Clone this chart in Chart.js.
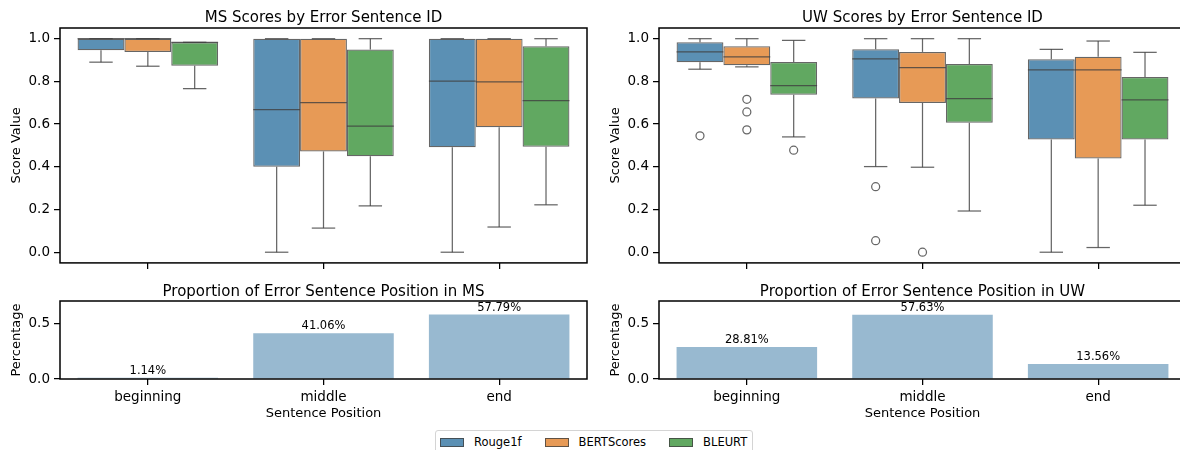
<!DOCTYPE html>
<html>
<head>
<meta charset="utf-8">
<script src="https://cdn.jsdelivr.net/npm/chart.js@4.4.1/dist/chart.umd.min.js"></script>
<style>
  html, body { margin: 0; background: #fff; font-family: 'DejaVu Sans', sans-serif; overflow: hidden; }
  body { width: 1180px; height: 450px; position: relative; }
  canvas { position: absolute; }
  #legend {
    position: absolute; left: 435px; top: 430px; width: 318px; height: 24px;
    box-sizing: border-box; border: 1px solid #d4d4d4; border-radius: 3px;
    display: flex; align-items: center; padding-left: 4px;
    font-size: 11.5px; color: #000; background: #fff;
  }
  #legend .item { display: flex; align-items: center; margin-right: 23px; }
  #legend .patch { width: 22px; height: 7px; border: 1px solid rgba(64,64,64,0.8); margin-right: 10px; }
</style>
</head>
<body>
<canvas id="msBox" width="590" height="275" style="left:0;top:0"></canvas>
<canvas id="uwBox" width="590" height="275" style="left:599px;top:0"></canvas>
<canvas id="msBar" width="590" height="150" style="left:0;top:275px"></canvas>
<canvas id="uwBar" width="590" height="150" style="left:599px;top:275px"></canvas>
<div id="legend"></div>
<script>
const positions = ['beginning', 'middle', 'end'];
const metrics = ['Rouge1f', 'BERTScores', 'BLEURT'];

// per position: [lower whisker, q1, median, q3, upper whisker]
const msRouge = [[0.890, 0.946, 1.000, 1.000, 1.000], [0.000, 0.400, 0.668, 1.000, 1.000], [0.000, 0.491, 0.801, 1.000, 1.000]];
const msBert = [[0.871, 0.938, 1.000, 1.000, 1.000], [0.113, 0.472, 0.700, 1.000, 1.000], [0.118, 0.585, 0.798, 1.000, 1.000]];
const msBleurt = [[0.766, 0.873, 0.983, 0.983, 0.983], [0.217, 0.449, 0.590, 0.949, 1.000], [0.222, 0.494, 0.710, 0.964, 1.000]];

const uwRouge = [[0.857, 0.890, 0.938, 0.983, 1.000], [0.401, 0.720, 0.905, 0.950, 1.000], [0.000, 0.528, 0.854, 0.904, 0.950]];
const uwBert = [[0.868, 0.876, 0.915, 0.964, 1.000], [0.398, 0.699, 0.865, 0.938, 1.000], [0.022, 0.439, 0.854, 0.915, 0.989]];
const uwBleurt = [[0.540, 0.738, 0.780, 0.891, 0.992], [0.193, 0.606, 0.719, 0.882, 1.000], [0.220, 0.528, 0.714, 0.821, 0.936]];

// outlier points per position
const msRougeOut = [[], [], []];
const msBertOut = [[], [], []];
const msBleurtOut = [[], [], []];
const uwRougeOut = [[0.545], [0.307, 0.054], []];
const uwBertOut = [[0.716, 0.657, 0.573], [0.000], []];
const uwBleurtOut = [[0.478], [], []];

// share of error sentences by position
const msShare = [0.0114, 0.4106, 0.5779];
const uwShare = [0.2881, 0.5763, 0.1356];

const scoreTicks = [0, 0.2, 0.4, 0.6, 0.8, 1.0];
const shareTicks = [0, 0.5];

// styles
const boxColors = ['rgba(50,116,161,0.8)', 'rgba(225,129,44,0.8)', 'rgba(58,146,58,0.8)'];
const lineColor = 'rgba(64,64,64,0.8)';
const barColor = 'rgba(50,116,161,0.5)';

Chart.defaults.font.family = "'DejaVu Sans', sans-serif";
Chart.defaults.color = '#000';

const frame = {
  id: 'frame',
  afterDraw(chart) {
    const a = chart.chartArea, ctx = chart.ctx;
    ctx.save();
    ctx.strokeStyle = '#000';
    ctx.lineWidth = 1.5;
    ctx.strokeRect(a.left, a.top, a.right - a.left, a.bottom - a.top);
    ctx.restore();
  }
};

const boxParts = {
  id: 'boxParts',
  afterDatasetsDraw(chart) {
    const ctx = chart.ctx, ys = chart.scales.y;
    const py = v => ys.getPixelForValue(v);
    const line = (x1, y1, x2, y2) => { ctx.beginPath(); ctx.moveTo(x1, y1); ctx.lineTo(x2, y2); ctx.stroke(); };
    ctx.save();
    ctx.strokeStyle = lineColor;
    ctx.lineWidth = 1.25;
    chart.data.datasets.forEach((ds, i) => {
      chart.getDatasetMeta(i).data.forEach((bar, j) => {
        const s = ds.stats[j];
        const x = bar.x, half = bar.width / 2, cap = bar.width / 4;
        line(x, py(s[1]), x, py(s[0]));
        line(x - cap, py(s[0]), x + cap, py(s[0]));
        line(x, py(s[3]), x, py(s[4]));
        line(x - cap, py(s[4]), x + cap, py(s[4]));
        line(x - half, py(s[2]), x + half, py(s[2]));
        ds.outliers[j].forEach(v => {
          ctx.beginPath();
          ctx.arc(x, py(v), 4, 0, Math.PI * 2);
          ctx.stroke();
        });
      });
    });
    ctx.restore();
  }
};

const barLabels = {
  id: 'barLabels',
  afterDatasetsDraw(chart) {
    const ctx = chart.ctx;
    ctx.save();
    ctx.fillStyle = '#000';
    ctx.font = "11.5px 'DejaVu Sans'";
    ctx.textAlign = 'center';
    ctx.textBaseline = 'bottom';
    const ds = chart.data.datasets[0];
    chart.getDatasetMeta(0).data.forEach((bar, j) => {
      ctx.fillText((ds.data[j] * 100).toFixed(2) + '%', bar.x, bar.y - 1);
    });
    ctx.restore();
  }
};

function yScale(ticks, min, max, title) {
  return {
    min: min, max: max,
    afterBuildTicks: s => { s.ticks = ticks.map(v => ({ value: v })); },
    afterFit: s => { s.width = 60; },
    ticks: { callback: v => v.toFixed(1), font: { size: 13.5 }, padding: 4 },
    grid: { drawOnChartArea: false, drawTicks: true, tickLength: 6, color: '#000', lineWidth: 1.25 },
    border: { display: false },
    title: { display: true, text: title, font: { size: 13 }, padding: { top: 9, bottom: 0 } }
  };
}

function xScale(showLabels, height) {
  return {
    afterFit: s => { s.height = height; },
    ticks: { display: showLabels, font: { size: 13.5 }, padding: 4, maxRotation: 0 },
    grid: { offset: false, drawOnChartArea: false, drawTicks: true, tickLength: 6, color: '#000', lineWidth: 1.25 },
    border: { display: false },
    title: { display: showLabels, text: 'Sentence Position', font: { size: 13 }, padding: { top: 0, bottom: 4 } }
  };
}

function titleOpts(text, top, bottom) {
  return { display: true, text: text, fullSize: false, font: { size: 15, weight: 'normal' }, padding: { top: top, bottom: bottom } };
}

function boxChart(id, title, stats, outliers) {
  new Chart(document.getElementById(id), {
    type: 'bar',
    data: {
      labels: positions,
      datasets: metrics.map((m, i) => ({
        label: m,
        data: stats[i].map(s => [s[1], s[3]]),
        stats: stats[i],
        outliers: outliers[i],
        backgroundColor: boxColors[i],
        borderColor: lineColor,
        borderWidth: 1.25,
        borderSkipped: false,
        categoryPercentage: 0.8,
        barPercentage: 1.0
      }))
    },
    options: {
      responsive: false,
      animation: false,
      layout: { padding: { left: 0, right: 3, top: 0, bottom: 0 } },
      scales: {
        x: xScale(false, 11),
        y: yScale(scoreTicks, -0.05, 1.05, 'Score Value')
      },
      plugins: {
        legend: { display: false },
        tooltip: { enabled: false },
        title: titleOpts(title, 9, 1)
      }
    },
    plugins: [boxParts, frame]
  });
}

function shareChart(id, title, values) {
  new Chart(document.getElementById(id), {
    type: 'bar',
    data: {
      labels: positions,
      datasets: [{
        data: values,
        backgroundColor: barColor,
        borderWidth: 0,
        categoryPercentage: 0.8,
        barPercentage: 1.0
      }]
    },
    options: {
      responsive: false,
      animation: false,
      layout: { padding: { left: 0, right: 3, top: 0, bottom: 0 } },
      scales: {
        x: xScale(true, 46),
        y: yScale(shareTicks, 0, 0.7, 'Percentage')
      },
      plugins: {
        legend: { display: false },
        tooltip: { enabled: false },
        title: titleOpts(title, 8, 0)
      }
    },
    plugins: [barLabels, frame]
  });
}

boxChart('msBox', 'MS Scores by Error Sentence ID', [msRouge, msBert, msBleurt], [msRougeOut, msBertOut, msBleurtOut]);
boxChart('uwBox', 'UW Scores by Error Sentence ID', [uwRouge, uwBert, uwBleurt], [uwRougeOut, uwBertOut, uwBleurtOut]);
shareChart('msBar', 'Proportion of Error Sentence Position in MS', msShare);
shareChart('uwBar', 'Proportion of Error Sentence Position in UW', uwShare);

const legend = document.getElementById('legend');
metrics.forEach((m, i) => {
  const item = document.createElement('div');
  item.className = 'item';
  const patch = document.createElement('span');
  patch.className = 'patch';
  patch.style.background = boxColors[i];
  const label = document.createElement('span');
  label.textContent = m;
  item.appendChild(patch);
  item.appendChild(label);
  legend.appendChild(item);
});
</script>
</body>
</html>
